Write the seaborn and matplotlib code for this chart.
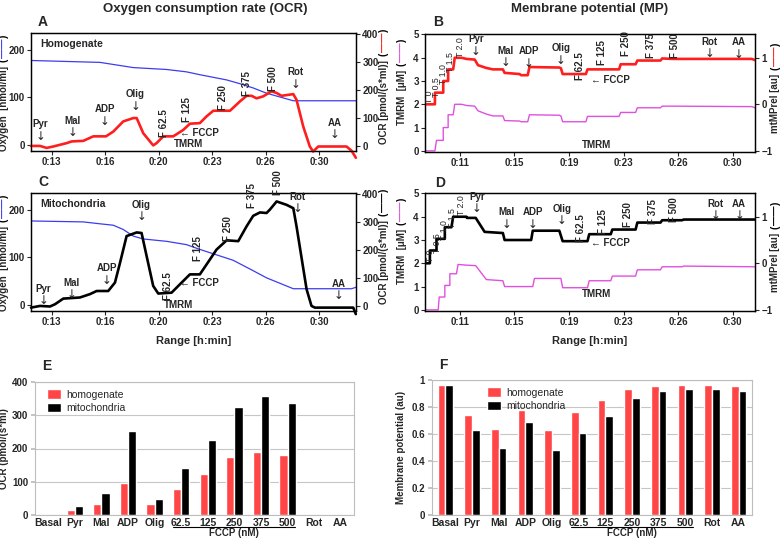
import numpy as np
import pandas as pd
import matplotlib
matplotlib.use('Agg')
import matplotlib.pyplot as plt
import seaborn as sns

# ---------------- data ----------------
ocr_ticks = [13, 16.5, 20, 23.5, 27, 30.5]
ocr_ticklabels = ['0:13', '0:16', '0:20', '0:23', '0:26', '0:30']
mp_ticks = [11, 14.8, 18.6, 22.4, 26.2, 30.0]
mp_ticklabels = ['0:11', '0:15', '0:19', '0:23', '0:26', '0:30']

# Panel A (homogenate): oxygen [nmol/ml] and OCR [pmol/(s*ml)]
a_o2_t = [11.65, 16.16, 18.34, 19.43, 20.52, 21.82, 22.69, 24.44, 25.31, 26.18, 27.05, 28.14, 28.80, 32.89]
a_o2_v = [178, 174, 163, 161, 159, 154, 148, 137, 129, 120, 109, 99, 93, 93]
a_ocr_t = [11.65, 12.24, 12.67, 13.11, 13.98, 14.31, 15.07, 15.72, 16.55, 17.03, 17.68, 18.34, 18.56, 18.99,
           19.64, 19.86, 20.30, 20.95, 21.61, 22.04, 22.69, 23.13, 23.57, 24.66, 25.31, 25.75, 26.07, 26.40,
           26.83, 27.38, 27.71, 28.03, 28.80, 29.01, 29.45, 29.88, 30.10, 30.43, 32.28, 32.61, 32.89]
a_ocr_v = [2, 2, -5, 0, 12, 18, 20, 36, 36, 53, 89, 101, 101, 47, 4, 12, 36, 36, 59, 81, 83, 107, 127, 127,
           160, 180, 180, 171, 178, 196, 190, 180, 186, 166, 71, 0, -18, 0, 0, -15, -40]

# Panel C (mitochondria)
c_o2_t = [11.65, 15.07, 16.16, 17.03, 17.68, 18.34, 18.99, 20.52, 21.82, 22.69, 24.87, 26.18, 27.05, 28.80, 32.61, 32.89]
c_o2_v = [177, 175, 171, 168, 159, 145, 139, 134, 127, 117, 94, 72, 57, 34, 34, 37]
c_ocr_t = [11.65, 12.24, 12.89, 13.22, 13.76, 14.85, 15.51, 15.94, 16.70, 17.14, 17.47, 17.90, 18.56, 18.88,
           19.21, 19.64, 19.97, 20.84, 21.39, 22.04, 22.69, 23.35, 23.78, 24.44, 25.20, 25.75, 26.18, 26.62,
           27.05, 27.27, 27.71, 28.36, 28.80, 29.01, 29.67, 29.99, 30.21, 32.72, 32.89]
c_ocr_v = [-4, 2, 0, 8, 28, 32, 44, 55, 55, 85, 155, 250, 263, 261, 179, 73, 46, 49, 79, 114, 114, 167, 202,
           235, 232, 285, 322, 334, 332, 344, 373, 361, 349, 285, 61, 2, -4, -4, -27]

# Panel B (homogenate): TMRM [uM] and mtMPrel [au]
b_tmrm_t = [8.58, 9.27, 9.38, 9.85, 9.85, 10.19, 10.19, 10.54, 10.65, 11.12, 11.46, 12.04, 12.27, 12.85, 13.31,
            14.00, 14.12, 15.16, 15.27, 15.73, 15.85, 17.93, 18.04, 18.16, 19.78, 19.89, 22.09, 22.20, 23.24,
            23.36, 24.97, 25.09, 25.78, 31.32, 31.55]
b_tmrm_v = [0, 0, 0.45, 0.45, 1.0, 1.0, 1.55, 1.55, 2.0, 2.0, 1.95, 1.92, 1.72, 1.58, 1.5, 1.5, 1.3, 1.28, 1.25,
            1.25, 1.55, 1.53, 1.5, 1.25, 1.25, 1.48, 1.48, 1.65, 1.65, 1.85, 1.85, 1.92, 1.92, 1.9, 1.85]
b_mp_t = [8.58, 9.27, 9.27, 9.85, 9.85, 10.19, 10.19, 10.54, 10.65, 11.12, 11.46, 12.04, 12.27, 12.85, 13.31,
          14.00, 14.12, 15.16, 15.27, 15.73, 15.85, 17.93, 18.04, 18.16, 19.78, 19.89, 22.09, 22.20, 23.24,
          23.36, 24.97, 25.09, 25.78, 31.32, 31.55]
b_mp_v = [0, 0, 0.25, 0.25, 0.5, 0.5, 0.75, 0.75, 1.0, 1.0, 0.975, 0.96, 0.84, 0.78, 0.75, 0.75, 0.675, 0.65,
          0.625, 0.625, 0.80, 0.79, 0.775, 0.65, 0.65, 0.75, 0.75, 0.86, 0.86, 0.94, 0.94, 0.985, 0.975, 0.975, 0.95]

# Panel D (mitochondria)
d_tmrm_t = [8.58, 9.50, 9.57, 9.96, 9.96, 10.31, 10.31, 10.77, 10.88, 11.46, 12.11, 12.85, 14.00, 14.12, 16.08,
            16.20, 18.04, 18.16, 19.89, 20.01, 21.51, 21.62, 23.24, 23.36, 24.97, 25.09, 26.47, 26.59, 31.55]
d_tmrm_v = [0, 0, 0.55, 0.55, 1.05, 1.05, 1.55, 1.55, 1.95, 1.92, 1.9, 1.3, 1.25, 1.0, 1.0, 1.35, 1.35, 0.95,
            0.95, 1.25, 1.25, 1.45, 1.45, 1.72, 1.72, 1.85, 1.85, 1.88, 1.85]
d_mp_t = [8.58, 8.92, 8.92, 9.38, 9.38, 9.96, 9.96, 10.42, 10.54, 11.46, 11.50, 12.11, 12.73, 14.00, 14.12,
          15.97, 16.08, 17.93, 18.16, 19.89, 20.01, 21.51, 21.62, 23.24, 23.36, 24.97, 25.09, 26.47, 26.59, 31.55]
d_mp_v = [0, 0, 0.275, 0.275, 0.525, 0.525, 0.775, 0.775, 1.0, 1.0, 0.975, 0.975, 0.675, 0.65, 0.5, 0.5, 0.7,
          0.7, 0.475, 0.475, 0.625, 0.625, 0.725, 0.725, 0.875, 0.875, 0.925, 0.925, 0.94, 0.94]

# Panels E, F bar data
stages = ['Basal', 'Pyr', 'Mal', 'ADP', 'Olig', '62.5', '125', '250', '375', '500', 'Rot', 'AA']
samples = ['homogenate', 'mitochondria']
e_homogenate = [1, 16, 34, 97, 32, 78, 122, 174, 189, 180, 1, 1]
e_mitochondria = [1, 26, 67, 252, 48, 141, 225, 326, 358, 336, 0, 0]
f_homogenate = [0.96, 0.74, 0.64, 0.78, 0.63, 0.76, 0.85, 0.93, 0.955, 0.965, 0.965, 0.955]
f_mitochondria = [0.96, 0.63, 0.50, 0.69, 0.48, 0.61, 0.73, 0.87, 0.92, 0.935, 0.935, 0.92]

# annotation labels: (text, x [min], y [axes frac], rotation, has arrow)
ann_a = [('Pyr', 12.28, 0.227, 0, True), ('Mal', 14.35, 0.256, 0, True), ('ADP', 16.49, 0.352, 0, True),
         ('Olig', 18.49, 0.483, 0, True), ('F 62.5', 20.34, 0.233, 90, False), ('F 125', 21.82, 0.347, 90, False),
         ('F 250', 24.18, 0.455, 90, False), ('F 375', 25.79, 0.574, 90, False), ('F 500', 27.49, 0.611, 90, False),
         ('Rot', 28.97, 0.668, 0, True), ('AA', 31.52, 0.239, 0, True),
         ('\u2190 FCCP', 22.69, 0.153, 0, False), ('TMRM', 21.98, 0.057, 0, False)]
ann_c = [('Pyr', 12.46, 0.19, 0, True), ('Mal', 14.31, 0.239, 0, True), ('ADP', 16.59, 0.366, 0, True),
         ('Olig', 18.88, 0.90, 0, True), ('F 62.5', 20.63, 0.215, 90, False), ('F 125', 22.54, 0.531, 90, False),
         ('F 250', 24.5, 0.70, 90, False), ('F 375', 26.07, 0.975, 90, False), ('F 500', 27.77, 1.09, 90, False),
         ('Rot', 29.08, 0.97, 0, True), ('AA', 31.74, 0.233, 0, True),
         ('\u2190 FCCP', 22.69, 0.239, 0, False), ('TMRM', 21.3, 0.052, 0, False)]
ann_b = [('Pyr', 12.11, 0.958, 0, True), ('Mal', 14.16, 0.86, 0, True), ('ADP', 15.8, 0.853, 0, True),
         ('Olig', 18.04, 0.88, 0, True), ('F 62.5', 19.36, 0.73, 90, False), ('F 125', 20.93, 0.845, 90, False),
         ('F 250', 22.59, 0.915, 90, False), ('F 375', 24.28, 0.90, 90, False), ('F 500', 26.01, 0.90, 90, False),
         ('Rot', 28.37, 0.935, 0, True), ('AA', 30.4, 0.93, 0, True),
         ('\u2190 FCCP', 21.51, 0.61, 0, False), ('TMRM', 20.51, 0.062, 0, False)]
ann_d = [('Pyr', 12.2, 0.97, 0, True), ('Mal', 14.23, 0.836, 0, True), ('ADP', 16.08, 0.836, 0, True),
         ('Olig', 18.11, 0.868, 0, True), ('F 62.5', 19.45, 0.70, 90, False), ('F 125', 20.98, 0.76, 90, False),
         ('F 250', 22.71, 0.817, 90, False), ('F 375', 24.44, 0.845, 90, False), ('F 500', 25.94, 0.86, 90, False),
         ('Rot', 28.83, 0.91, 0, True), ('AA', 30.45, 0.91, 0, True),
         ('\u2190 FCCP', 21.51, 0.577, 0, False), ('TMRM', 20.51, 0.14, 0, False)]
tlabels = ['T 0', 'T 0.5', 'T 1.0', 'T 1.5', 'T 2.0']
tpos_b = [(8.88, 0.465), (9.38, 0.55), (9.85, 0.66), (10.38, 0.76), (11.05, 0.887)]
tpos_d = [(8.97, 0.465), (9.43, 0.577), (9.96, 0.69), (10.47, 0.79), (11.09, 0.90)]

# ---------------- style ----------------
RED = '#FF1E1E'
BLUE = '#3C3CF0'
MAG = '#E050E0'
BARRED = '#FF4545'
GRID = '#C6C6C6'

sns.set_theme(style='ticks')
plt.rcParams['font.family'] = ['Liberation Sans', 'DejaVu Sans']
plt.rcParams['font.weight'] = 'bold'
plt.rcParams['axes.labelweight'] = 'bold'
plt.rcParams['axes.linewidth'] = 0.9
plt.rcParams['axes.edgecolor'] = 'black'

W, H = 780, 538
fig = plt.figure(figsize=(W / 100, H / 100), dpi=100)


def rect(l, t, r, b):
    return [l / W, 1 - b / H, (r - l) / W, (b - t) / H]


def key_label(ax, text, color, x, y):
    t = ax.text(x, y, text, transform=ax.transAxes, rotation=90, ha='center', va='bottom',
                fontsize=7, fontweight='bold', clip_on=False)
    p1 = ax.annotate('(', xy=(0.5, 1.0), xycoords=t, xytext=(0, 3), textcoords='offset points',
                     rotation=90, ha='center', va='bottom', fontsize=7, fontweight='bold', color='black')
    d = ax.annotate('\u2014\u2014', xy=(0.5, 1.0), xycoords=p1, xytext=(0, 0.3), textcoords='offset points',
                    rotation=90, ha='center', va='bottom', fontsize=7, fontweight='bold', color=color)
    ax.annotate(')', xy=(0.5, 1.0), xycoords=d, xytext=(0, 0.3), textcoords='offset points',
                rotation=90, ha='center', va='bottom', fontsize=7, fontweight='bold', color='black')


def add_ann(ax, items):
    tr = ax.get_xaxis_transform()
    for txt, x, y, rot, arrow in items:
        t = ax.text(x, y, txt, transform=tr, ha='center', va='center', rotation=rot, fontsize=7,
                    fontweight='bold', clip_on=False)
        if arrow:
            ax.annotate('\u2193', xy=(0.5, 0.0), xycoords=t, xytext=(0, -0.5), textcoords='offset points',
                        ha='center', va='top', fontsize=8.5, family='DejaVu Sans', fontweight='normal')


def style_time(ax, ax2, ticks, labels, xlim):
    ax.set_xlim(*xlim)
    ax.set_xticks(ticks)
    ax.set_xticklabels(labels)
    for a in (ax, ax2):
        a.tick_params(direction='out', length=3, width=0.8, pad=1.5, labelsize=7)
        for s in a.spines.values():
            s.set_visible(True)
            s.set_color('black')
            s.set_linewidth(0.9)
        a.set_ylabel('')
        a.set_xlabel('')
    for lab in ax.get_xticklabels() + ax.get_yticklabels() + ax2.get_yticklabels():
        lab.set_fontweight('bold')


# ---------------- OCR panels (A, C) ----------------
def ocr_panel(r, o2_t, o2_v, ocr_t, ocr_v, ocr_color, name, ann):
    ax = fig.add_axes(r)
    ax2 = ax.twinx()
    sns.lineplot(x=o2_t, y=o2_v, ax=ax, color=BLUE, linewidth=0.9, estimator=None, sort=False)
    sns.lineplot(x=ocr_t, y=ocr_v, ax=ax2, color=ocr_color, linewidth=1.9, estimator=None, sort=False,
                 clip_on=False)
    ax.set_ylim(-13, 236)
    ax.set_yticks([0, 100, 200])
    ax2.set_ylim(-16, 403)
    ax2.set_yticks([0, 100, 200, 300, 400])
    style_time(ax, ax2, ocr_ticks, ocr_ticklabels, (11.65, 32.9))
    ax2.text(12.24, 0.906, name, transform=ax2.get_xaxis_transform(), ha='left', va='center',
             fontsize=7.5, fontweight='bold')
    add_ann(ax2, ann)
    key_label(ax, 'Oxygen  [nmol/ml]', BLUE, -0.084, 0.0)
    key_label(ax2, 'OCR [pmol/(s*ml)]', ocr_color, 1.085, 0.06)
    return ax, ax2


axA, axA2 = ocr_panel(rect(31, 33, 356, 151), a_o2_t, a_o2_v, a_ocr_t, a_ocr_v, RED, 'Homogenate', ann_a)
axC, axC2 = ocr_panel(rect(31, 193, 356, 311), c_o2_t, c_o2_v, c_ocr_t, c_ocr_v, 'black', 'Mitochondria', ann_c)
axC.set_xlabel('Range [h:min]', fontsize=8, fontweight='bold', labelpad=6)


# ---------------- MP panels (B, D) ----------------
def mp_panel(r, tm_t, tm_v, mp_t, mp_v, mp_color, ann, tpos):
    ax = fig.add_axes(r)
    ax2 = ax.twinx()
    sns.lineplot(x=tm_t, y=tm_v, ax=ax, color=MAG, linewidth=1.0, estimator=None, sort=False)
    sns.lineplot(x=mp_t, y=mp_v, ax=ax2, color=mp_color, linewidth=1.9, estimator=None, sort=False)
    lo, hi = -0.05, 5.02
    ax.set_ylim(lo, hi)
    ax.set_yticks([0, 1, 2, 3, 4, 5])
    ax2.set_ylim((lo - 2) / 2, (hi - 2) / 2)
    ax2.set_yticks([-1, 0, 1])
    style_time(ax, ax2, mp_ticks, mp_ticklabels, (8.58, 31.55))
    add_ann(ax2, ann)
    tr = ax2.get_xaxis_transform()
    for lab, (x, y) in zip(tlabels, tpos):
        ax2.text(x, y, lab, transform=tr, rotation=90, ha='center', va='center', fontsize=6.3,
                 fontweight='normal')
    key_label(ax, 'TMRM  [\u03bcM]', MAG, -0.07, 0.23)
    key_label(ax2, 'mtMPrel [au]', mp_color, 1.062, 0.16)
    return ax, ax2


axB, axB2 = mp_panel(rect(425, 34, 755, 152), b_tmrm_t, b_tmrm_v, b_mp_t, b_mp_v, RED, ann_b, tpos_b)
axD, axD2 = mp_panel(rect(425, 193, 755, 311), d_tmrm_t, d_tmrm_v, d_mp_t, d_mp_v, 'black', ann_d, tpos_d)
axD.set_xlabel('Range [h:min]', fontsize=8, fontweight='bold', labelpad=6)


# ---------------- bar panels (E, F) ----------------
def bar_panel(r, hom, mito, ylim, yticks, yticklabels, ylabel, width, leg_x):
    ax = fig.add_axes(r)
    df = pd.DataFrame({
        'stage': stages * 2,
        'sample': ['homogenate'] * len(stages) + ['mitochondria'] * len(stages),
        'value': list(hom) + list(mito),
    })
    sns.barplot(data=df, x='stage', y='value', hue='sample', order=stages, hue_order=samples,
                palette={'homogenate': BARRED, 'mitochondria': 'black'}, saturation=1, width=width,
                errorbar=None, ax=ax)
    ax.set_xlim(-0.5, len(stages) - 0.5)
    ax.set_ylim(*ylim)
    ax.set_yticks(yticks)
    ax.set_yticklabels(yticklabels)
    ax.set_axisbelow(True)
    ax.yaxis.grid(True, color=GRID, linewidth=0.8)
    ax.xaxis.grid(False)
    for s in ax.spines.values():
        s.set_visible(True)
        s.set_color('#BDBDBD')
        s.set_linewidth(0.8)
    ax.tick_params(axis='y', length=3, color='#BDBDBD', labelsize=7, pad=2)
    ax.tick_params(axis='x', length=0, labelsize=7.5, pad=2)
    for lab in ax.get_xticklabels() + ax.get_yticklabels():
        lab.set_fontweight('bold')
    ax.set_xlabel('')
    ax.set_ylabel(ylabel, fontsize=7, fontweight='bold')
    ax.yaxis.set_label_coords(-0.082, 0.5)
    h, l = ax.get_legend_handles_labels()
    ax.legend(h, l, loc='upper left', bbox_to_anchor=(leg_x, 1.0), frameon=False,
              prop={'size': 7.5, 'weight': 'normal'},
              handlelength=1.3, handleheight=1.0, handletextpad=0.5, borderaxespad=0.3, labelspacing=0.35)
    tr = ax.get_xaxis_transform()
    i0, i1 = stages.index('62.5'), stages.index('500')
    ax.plot([i0 - 0.3, i1 + 0.28], [-0.092, -0.092], transform=tr, color='black', linewidth=0.8,
            clip_on=False)
    ax.text((i0 + i1) / 2, -0.133, 'FCCP (nM)', transform=tr, ha='center', va='center', fontsize=7,
            fontweight='bold')
    return ax


axE = bar_panel(rect(35, 382, 354, 515), e_homogenate, e_mitochondria, (0, 400), [0, 100, 200, 300, 400],
                ['0', '100', '200', '300', '400'], 'OCR (pmol/(s*ml)', 0.62, 0.015)
axF = bar_panel(rect(432, 380, 752, 515), f_homogenate, f_mitochondria, (0, 1.0),
                [0, 0.2, 0.4, 0.6, 0.8, 1.0], ['0', '0.2', '0.4', '0.6', '0.8', '1'],
                'Membrane potential (au)', 0.58, 0.15)

# ---------------- titles & panel letters ----------------
fig.text(205 / W, 1 - 9 / H, 'Oxygen consumption rate (OCR)', ha='center', va='center', fontsize=9.5,
         fontweight='bold')
fig.text(590 / W, 1 - 9 / H, 'Membrane potential (MP)', ha='center', va='center', fontsize=9.5,
         fontweight='bold')
for letter, x, y in [('A', 43, 22), ('B', 438, 22), ('C', 43, 182), ('D', 440, 183), ('E', 47, 366),
                     ('F', 443, 365)]:
    fig.text(x / W, 1 - y / H, letter, ha='center', va='center', fontsize=10, fontweight='bold')

fig.savefig('out.png', dpi=100)
